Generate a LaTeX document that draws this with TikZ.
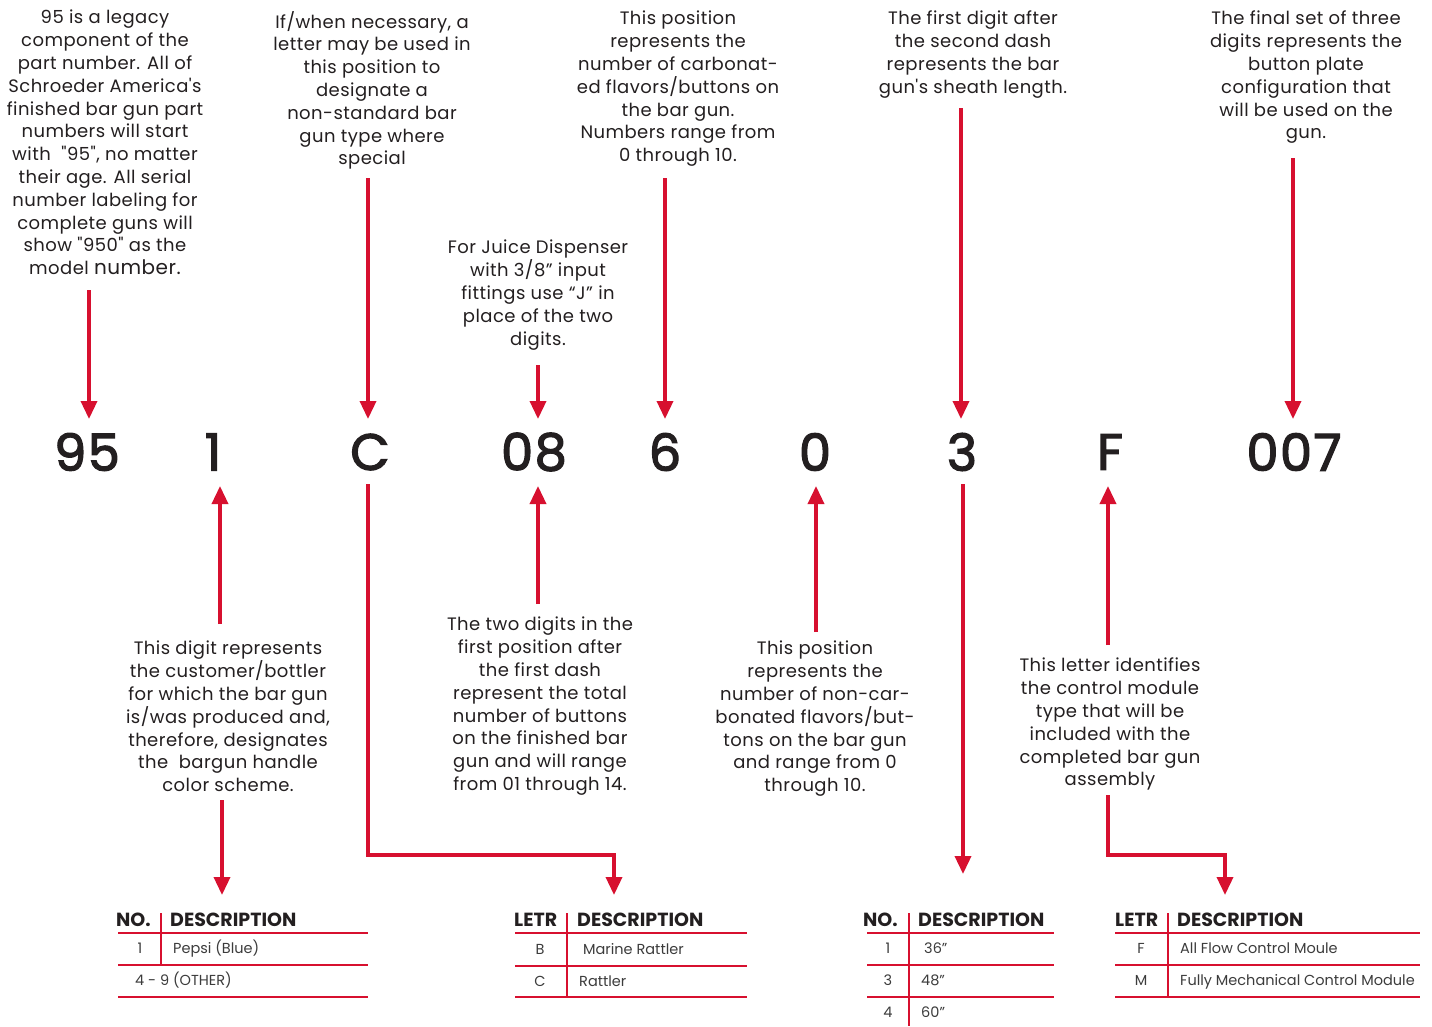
\documentclass[tikz,border=0pt]{standalone}
\usepackage{fontspec}
\setmainfont{Poppins}
\newfontfamily\descfont{Poppins}[LetterSpace=2.5]
\newfontfamily\digitfont{Poppins}[FakeBold=2.5,LetterSpace=3]
\usetikzlibrary{arrows.meta}
\definecolor{sred}{HTML}{D7102F}
\definecolor{stext}{HTML}{231F20}
\definecolor{sgray}{HTML}{3C3C3C}
\begin{document}
\begin{tikzpicture}[x=1pt,y=-1pt,
  desc/.style={align=center, font=\descfont\fontsize{18}{22.8}\selectfont, text=stext, inner sep=0pt, anchor=north},
  digit/.style={font=\digitfont\fontsize{51}{51}\selectfont, text=stext, inner sep=0pt, anchor=center},
  arr/.style={draw=sred, line width=3.5pt, -{Triangle[width=16pt,length=18pt]}},
  rulel/.style={draw=sred, line width=2.5pt},
  th/.style={font=\fontsize{19}{19}\selectfont\bfseries, text=stext, anchor=base west, inner sep=0pt},
  td/.style={font=\fontsize{14.5}{15}\selectfont, text=sgray, anchor=base west, inner sep=0pt},
  tdc/.style={font=\fontsize{14.5}{15}\selectfont, text=sgray, anchor=base, inner sep=0pt}
]
\fill[white] (0,0) rectangle (1432,1026);
\useasboundingbox (0,0) rectangle (1432,1026);

% ---------- top descriptions ----------
\node[desc] (tA) at (105,10) {95 is a legacy\\component of the\\part number. All of\\Schroeder America's\\finished bar gun part\\numbers will start\\with\ \ "95", no matter\\their age. All serial\\number labeling for\\complete guns will\\show "950" as the\\model {\fontsize{20}{22.8}\selectfont number.}};
\node[desc] (tB) at (372,11) {If/when necessary, a\\letter may be used in\\this position to\\designate a\\non-standard bar\\gun type where\\special};
\node[desc] (tC) at (678,11) {This position\\represents the\\number of carbonat-\\ed flavors/buttons on\\the bar gun.\\Numbers range from\\0 through 10.};
\node[desc] (tD) at (973,11) {The first digit after\\the second dash\\represents the bar\\gun's sheath length.};
\node[desc] (tE) at (1306,11) {The final set of three\\digits represents the\\button plate\\configuration that\\will be used on the\\gun.};
\node[desc] (tF) at (538,240) {For Juice Dispenser\\with 3/8” input\\fittings use “J” in\\place of the two\\digits.};

% ---------- bottom descriptions ----------
\node[desc] (tG) at (228,641) {This digit represents\\the customer/bottler\\for which the bar gun\\is/was produced and,\\therefore, designates\\the\ \ bargun handle\\color scheme.};
\node[desc] (tH) at (540,617) {The two digits in the\\first position after\\the first dash\\represent the total\\number of buttons\\on the finished bar\\gun and will range\\from 01 through 14.};
\node[desc] (tI) at (815,641) {This position\\represents the\\number of non-car-\\bonated flavors/but-\\tons on the bar gun\\and range from 0\\through 10.};
\node[desc] (tJ) at (1110,658) {This letter identifies\\the control module\\type that will be\\included with the\\completed bar gun\\assembly};

% ---------- part number ----------
\node[digit] (d95) at (87,452) {95};
\node[digit] (d1) at (213,452) {1};
\node[digit] (dC) at (370,452) {C};
\node[digit] (d08) at (534,452) {08};
\node[digit] (d6) at (665,452) {6};
\node[digit] (d0) at (815,452) {0};
\node[digit] (d3) at (962,452) {3};
\node[digit] (dF) at (1110,452) {F};
\node[digit] (d007) at (1294,452) {007};

% ---------- connector end points ----------
\coordinate (a1s) at (89,290);   \coordinate (a1e) at (89,419);
\coordinate (a2s) at (368,178);  \coordinate (a2e) at (368,419);
\coordinate (a3s) at (538,365);  \coordinate (a3e) at (538,419);
\coordinate (a4s) at (665,178);  \coordinate (a4e) at (665,419);
\coordinate (a5s) at (961,108);  \coordinate (a5e) at (961,419);
\coordinate (a6s) at (1293,158); \coordinate (a6e) at (1293,419);
\coordinate (b1s) at (220,624);  \coordinate (b1e) at (220,486);
\coordinate (b2s) at (538,604);  \coordinate (b2e) at (538,486);
\coordinate (b3s) at (816,632);  \coordinate (b3e) at (816,486);
\coordinate (b4s) at (1108,645); \coordinate (b4e) at (1108,486);
\coordinate (c1s) at (222,800);  \coordinate (c1e) at (222,895);
\coordinate (c2s) at (368,484);  \coordinate (c2m) at (368,855); \coordinate (c2n) at (614,855); \coordinate (c2e) at (614,895);
\coordinate (c3s) at (963,484);  \coordinate (c3e) at (963,874);
\coordinate (c4s) at (1108,795); \coordinate (c4m) at (1108,855); \coordinate (c4n) at (1225,855); \coordinate (c4e) at (1225,895);

\draw[arr] (a1s) -- (a1e);
\draw[arr] (a2s) -- (a2e);
\draw[arr] (a3s) -- (a3e);
\draw[arr] (a4s) -- (a4e);
\draw[arr] (a5s) -- (a5e);
\draw[arr] (a6s) -- (a6e);
\draw[arr] (b1s) -- (b1e);
\draw[arr] (b2s) -- (b2e);
\draw[arr] (b3s) -- (b3e);
\draw[arr] (b4s) -- (b4e);
\draw[arr] (c1s) -- (c1e);
\draw[arr] (c2s) -- (c2m) -- (c2n) -- (c2e);
\draw[arr] (c3s) -- (c3e);
\draw[arr] (c4s) -- (c4m) -- (c4n) -- (c4e);

% ---------- table 1 ----------
\draw[rulel] (118,933) -- (368,933);
\draw[rulel] (118,965) -- (368,965);
\draw[rulel] (118,997) -- (368,997);
\draw[rulel] (161,913) -- (161,965);
\node[th] (h1a) at (116,926) {NO.};
\node[th] (h1b) at (170,926) {DESCRIPTION};
\node[tdc] (r1a) at (140,953) {1};
\node[td] (r1b) at (173,953) {Pepsi (Blue)};
\node[td] (r1c) at (135,985) {4 - 9 (OTHER)};

% ---------- table 2 ----------
\draw[rulel] (515,933) -- (747,933);
\draw[rulel] (515,966) -- (747,966);
\draw[rulel] (515,997) -- (747,997);
\draw[rulel] (567,913) -- (567,997);
\node[th] (h2a) at (514,926) {LETR};
\node[th] (h2b) at (577,926) {DESCRIPTION};
\node[tdc] (r2a) at (540,954) {B};
\node[td] (r2b) at (583,954) {Marine Rattler};
\node[tdc] (r2c) at (540,986) {C};
\node[td] (r2d) at (579,986) {Rattler};

% ---------- table 3 ----------
\draw[rulel] (867,933) -- (1054,933);
\draw[rulel] (867,965) -- (1054,965);
\draw[rulel] (867,997) -- (1054,997);
\draw[rulel] (909,913) -- (909,1026);
\node[th] (h3a) at (863,926) {NO.};
\node[th] (h3b) at (918,926) {DESCRIPTION};
\node[tdc] (r3a) at (888,953) {1};
\node[td] (r3b) at (924,953) {36”};
\node[tdc] (r3c) at (888,985) {3};
\node[td] (r3d) at (921,985) {48”};
\node[tdc] (r3e) at (888,1017) {4};
\node[td] (r3f) at (921,1017) {60”};

% ---------- table 4 ----------
\draw[rulel] (1115,933) -- (1420,933);
\draw[rulel] (1115,965) -- (1420,965);
\draw[rulel] (1115,997) -- (1420,997);
\draw[rulel] (1168,913) -- (1168,997);
\node[th] (h4a) at (1115,926) {LETR};
\node[th] (h4b) at (1177,926) {DESCRIPTION};
\node[tdc] (r4a) at (1141,953) {F};
\node[td] (r4b) at (1180,953) {All Flow Control Moule};
\node[tdc] (r4c) at (1141,985) {M};
\node[td] (r4d) at (1180,985) {Fully Mechanical Control Module};
\end{tikzpicture}
\end{document}
